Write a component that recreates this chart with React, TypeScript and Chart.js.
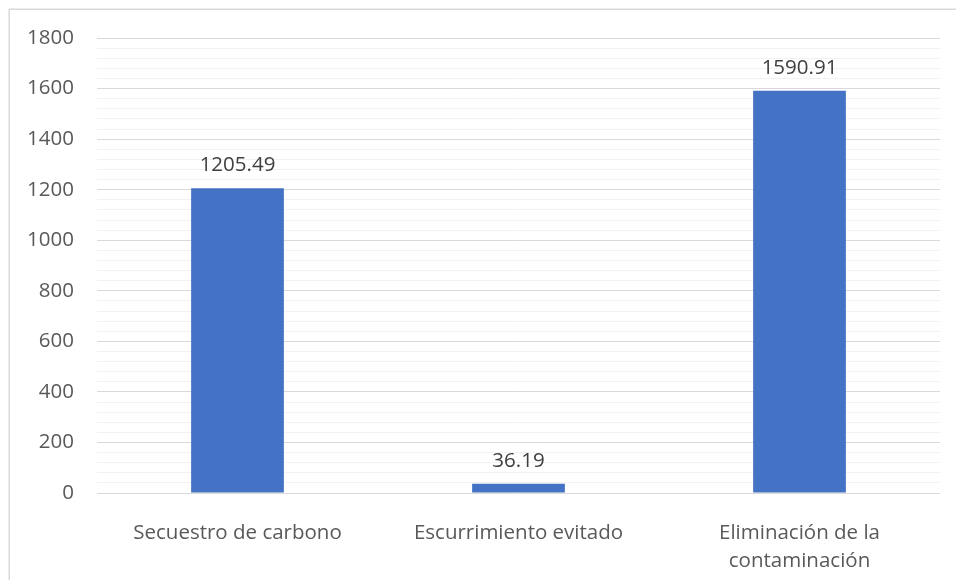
import React, { useEffect, useRef } from "react";
import { Chart, registerables } from "chart.js";

Chart.register(...registerables);

// Ecosystem service values per category
const categoryLabels: string[][] = [
  ["Secuestro de carbono"],
  ["Escurrimiento evitado"],
  ["Eliminación de la", "contaminación"],
];
const serviceValues: number[] = [1205.49, 36.19, 1590.91];

// Value axis range and spacing
const yMin = 0;
const yMax = 1800;
const yMinorStep = 40;
const yMajorStep = 200;

const FONT = "'Open Sans', 'Liberation Sans', sans-serif";
const TEXT_COLOR = "#595959";
const BAR_COLOR = "#4472C4";

// Light frame around the chart area (top and left edges)
const framePlugin = {
  id: "frame",
  beforeDraw(chart: Chart) {
    const ctx = chart.ctx;
    ctx.save();
    ctx.fillStyle = "#ffffff";
    ctx.fillRect(0, 0, chart.width, chart.height);
    ctx.strokeStyle = "#d9d9d9";
    ctx.lineWidth = 1.5;
    ctx.beginPath();
    ctx.moveTo(9.25, chart.height + 2);
    ctx.lineTo(9.25, 9.25);
    ctx.lineTo(chart.width + 2, 9.25);
    ctx.stroke();
    ctx.restore();
  },
};

// Value labels above each bar
const valueLabelPlugin = {
  id: "valueLabels",
  afterDatasetsDraw(chart: Chart) {
    const ctx = chart.ctx;
    const meta = chart.getDatasetMeta(0);
    const data = chart.data.datasets[0].data as number[];
    ctx.save();
    ctx.font = `20.5px ${FONT}`;
    ctx.fillStyle = "#404040";
    ctx.textAlign = "center";
    ctx.textBaseline = "alphabetic";
    meta.data.forEach((bar: any, i: number) => {
      ctx.fillText(data[i].toFixed(2), bar.x, bar.y - 17);
    });
    ctx.restore();
  },
};

export default function App() {
  const canvasRef = useRef<HTMLCanvasElement | null>(null);

  useEffect(() => {
    if (!canvasRef.current) return;
    const chart = new Chart(canvasRef.current, {
      type: "bar",
      data: {
        labels: categoryLabels,
        datasets: [
          {
            data: serviceValues,
            backgroundColor: BAR_COLOR,
            borderWidth: 0,
            categoryPercentage: 1,
            barPercentage: 0.33,
          },
        ],
      },
      options: {
        responsive: false,
        animation: false,
        devicePixelRatio: 1,
        layout: { padding: { top: 38, right: 16, left: 0, bottom: 0 } },
        plugins: {
          legend: { display: false },
          tooltip: { enabled: false },
          title: { display: false },
        },
        scales: {
          x: {
            grid: { display: false },
            border: { display: false },
            ticks: {
              color: TEXT_COLOR,
              font: { family: FONT, size: 20.5, lineHeight: 1.37 },
              padding: 18,
              maxRotation: 0,
              autoSkip: false,
            },
            afterFit(scale: any) {
              scale.height = 87;
            },
          },
          y: {
            min: yMin,
            max: yMax,
            border: { display: false },
            grid: {
              drawTicks: false,
              lineWidth: 1,
              color: (c: any) =>
                c.tick && c.tick.value % yMajorStep === 0 ? "#d9d9d9" : "#f2f2f2",
            },
            ticks: {
              stepSize: yMinorStep,
              autoSkip: false,
              color: TEXT_COLOR,
              font: { family: FONT, size: 20.5 },
              padding: 23,
              callback: (v: any) => (Number(v) % yMajorStep === 0 ? String(v) : ""),
            },
            afterFit(scale: any) {
              scale.width = 97;
            },
          },
        },
      },
      plugins: [framePlugin, valueLabelPlugin],
    });
    return () => chart.destroy();
  }, []);

  return (
    <div style={{ position: "absolute", left: 0, top: 0, width: 956, height: 580 }}>
      <canvas ref={canvasRef} width={956} height={580} style={{ display: "block" }} />
    </div>
  );
}
